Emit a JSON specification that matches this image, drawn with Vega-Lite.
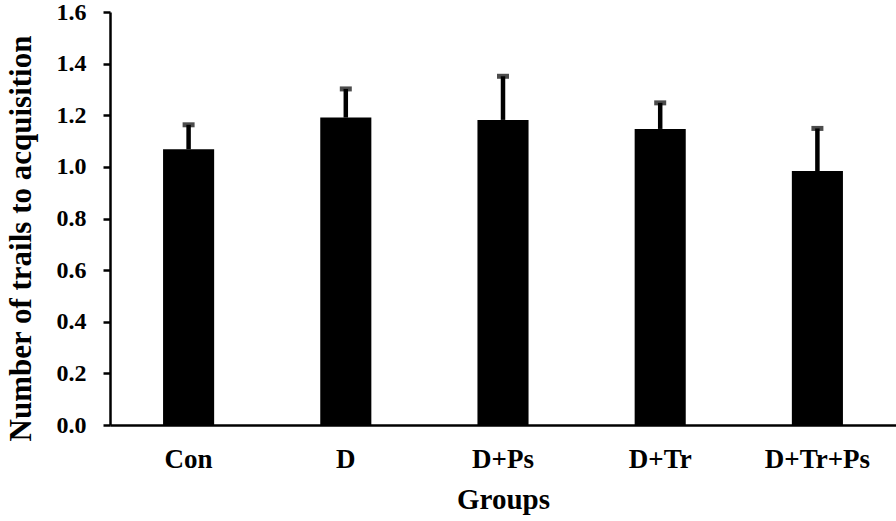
{
  "$schema": "https://vega.github.io/schema/vega-lite/v6.json",
  "width": 786,
  "height": 413,
  "autosize": {"type": "none"},
  "padding": {"left": 110, "top": 12, "right": 0, "bottom": 96},
  "background": "white",
  "config": {
    "view": {"stroke": null},
    "font": "Liberation Serif"
  },
  "data": {
    "values": [
      {"group": "Con", "mean": 1.068, "upper": 1.163},
      {"group": "D", "mean": 1.191, "upper": 1.302},
      {"group": "D+Ps", "mean": 1.182, "upper": 1.351},
      {"group": "D+Tr", "mean": 1.147, "upper": 1.248},
      {"group": "D+Tr+Ps", "mean": 0.984, "upper": 1.149}
    ]
  },
  "encoding": {
    "x": {
      "field": "group",
      "type": "nominal",
      "sort": null,
      "scale": {"paddingInner": 0.675, "paddingOuter": 0.3375},
      "axis": {
        "title": "Groups",
        "labelAngle": 0,
        "labelFont": "Liberation Serif",
        "labelFontWeight": "bold",
        "labelFontSize": 27,
        "labelColor": "black",
        "labelPadding": 21,
        "ticks": false,
        "domainColor": "black",
        "domainWidth": 2.5,
        "titleFont": "Liberation Serif",
        "titleFontWeight": "bold",
        "titleFontSize": 29,
        "titleColor": "black",
        "titlePadding": 13
      }
    }
  },
  "layer": [
    {
      "mark": {"type": "bar", "color": "black"},
      "encoding": {
        "y": {
          "field": "mean",
          "type": "quantitative",
          "scale": {"domain": [0, 1.6], "nice": false},
          "axis": {
            "title": "Number of trails to acquisition",
            "values": [0, 0.2, 0.4, 0.6, 0.8, 1.0, 1.2, 1.4, 1.6],
            "format": ".1f",
            "grid": false,
            "labelFont": "Liberation Serif",
            "labelFontWeight": "bold",
            "labelFontSize": 24,
            "labelColor": "black",
            "labelPadding": 17,
            "tickSize": 7,
            "tickWidth": 2.5,
            "tickColor": "black",
            "domainColor": "black",
            "domainWidth": 2.5,
            "titleFont": "Liberation Serif",
            "titleFontWeight": "bold",
            "titleFontSize": 31,
            "titleColor": "black",
            "titlePadding": 19,
            "titleY": 226
          }
        }
      }
    },
    {
      "mark": {"type": "rule", "color": "black", "strokeWidth": 4.5},
      "encoding": {
        "y": {"field": "mean", "type": "quantitative"},
        "y2": {"field": "upper"}
      }
    },
    {
      "mark": {"type": "tick", "color": "black", "thickness": 5, "size": 12},
      "encoding": {
        "y": {"field": "upper", "type": "quantitative"}
      }
    }
  ]
}
